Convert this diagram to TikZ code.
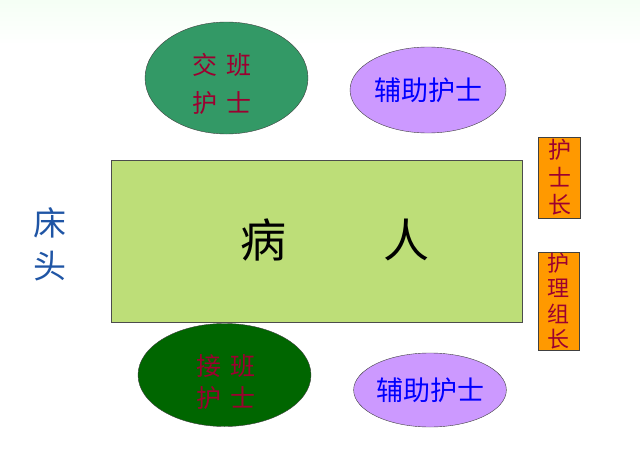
\documentclass[tikz,border=0pt]{standalone}
\usepackage{xcolor}
\usepackage{fontspec}
\newfontfamily\cjk{Noto Sans CJK SC}
\usetikzlibrary{positioning,shapes}

\definecolor{handover}{HTML}{339966}
\definecolor{takeover}{HTML}{006600}
\definecolor{helper}{HTML}{CC99FF}
\definecolor{bedgreen}{HTML}{BDDE78}
\definecolor{headorange}{HTML}{FF9900}
\definecolor{namered}{HTML}{9C0030}
\definecolor{headblue}{HTML}{1F55A5}

\begin{document}
\begin{tikzpicture}[x=1pt, y=-1pt,
    nurse/.style={ellipse, draw=black!75, thin, inner sep=0pt},
    nursename/.style={text=namered, align=center, inner sep=0pt},
    helpnurse/.style={ellipse, draw=black!75, thin, inner sep=0pt, fill=helper,
      text=blue, font=\cjk\fontsize{27}{30}\selectfont},
    tag/.style={rectangle, draw=black!75, thin, fill=headorange, inner sep=0pt,
      text=namered, align=center, minimum width=42pt}]

% Frame
\useasboundingbox (0,0) rectangle (640,455);
\shade[top color=green!4!white, bottom color=white] (0,0) rectangle (640,45);

% Bed
\node[rectangle, draw=black!70, fill=bedgreen, minimum width=411pt, minimum height=162pt,
  inner sep=0pt] (bed) at (316.5,241) {};
\node[font=\cjk\fontsize{46}{50}\selectfont] (patient) at (335,240) {病\hspace{98pt}人};
\node[text=headblue, align=center, font=\cjk\fontsize{33}{43}\selectfont] (head) at (50,244) {床\\头};

% Nurses
\node[nurse, fill=handover, minimum width=163pt, minimum height=112pt] (hand) at (226.5,78) {};
\node[nursename, font=\cjk\fontsize{25}{38}\selectfont] (handname) at (222,84) {交\,\,班\\护\,\,士};
\node[helpnurse, minimum width=156pt, minimum height=86pt] (helpA) at (428,90) {辅助护士};
\node[nurse, fill=takeover, minimum width=173pt, minimum height=103pt] (take) at (224.5,375) {};
\node[nursename, font=\cjk\fontsize{25}{31.5}\selectfont] (takename) at (226,382) {接\,\,班\\护\,\,士};
\node[helpnurse, minimum width=138pt, minimum height=74pt] (helpB) at (430,390) {辅助护士};

% Heads
\node[tag, minimum height=81pt, font=\cjk\fontsize{23}{27.5}\selectfont] (chief) at (559.5,177.5) {护\\士\\长};
\node[tag, minimum width=41pt, minimum height=98pt, font=\cjk\fontsize{22}{25.5}\selectfont] (leader) at (558.5,301) {护\\理\\组\\长};

\end{tikzpicture}
\end{document}
